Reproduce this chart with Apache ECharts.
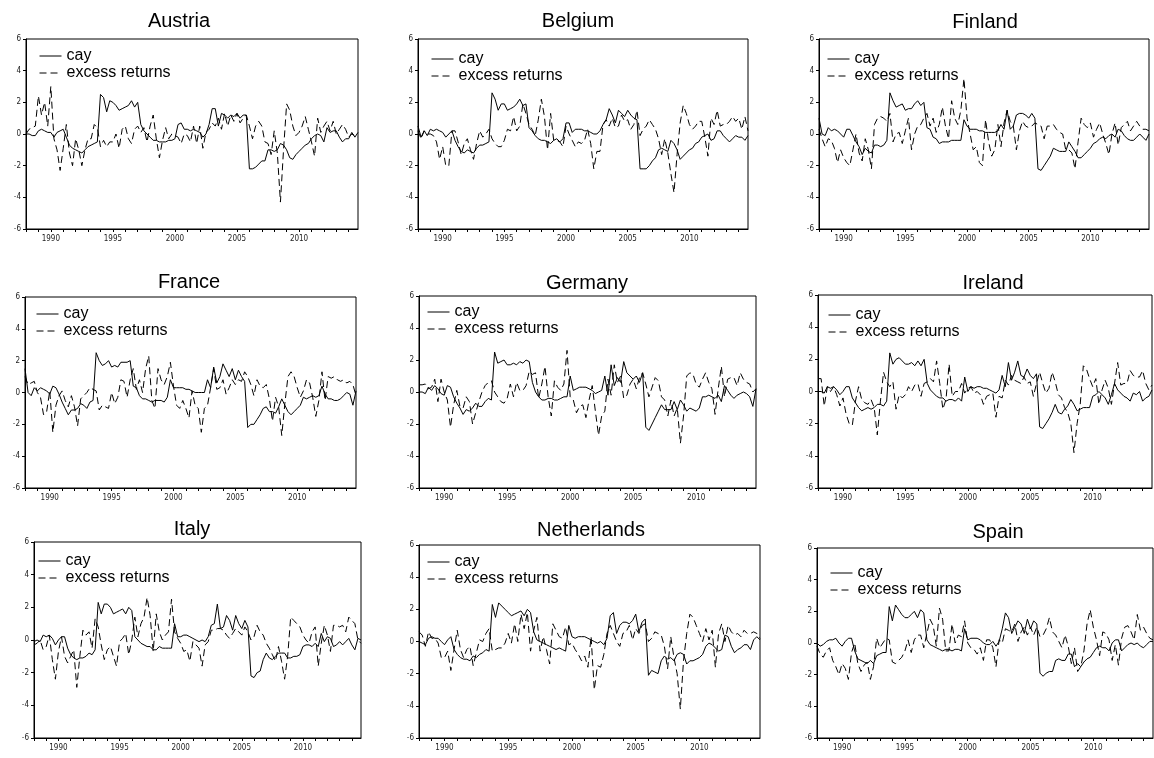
<!DOCTYPE html>
<html>
<head>
<meta charset="utf-8">
<title>cay and excess returns</title>
<script src="https://cdn.jsdelivr.net/npm/echarts@6/dist/echarts.min.js"></script>
<style>
  html, body { margin: 0; padding: 0; background: #fff; }
  #main { width: 1154px; height: 758px; }
</style>
</head>
<body>
<div id="main"></div>
<script>
// quarterly sample 1988Q1 - 2014Q4
var startYear = 1988;
var endYear = 2014;
var quarters = [];
for (var yr = startYear; yr <= endYear; yr++) {
  for (var q = 1; q <= 4; q++) quarters.push(yr + 'Q' + q);
}
var labelYears = ['1990', '1995', '2000', '2005', '2010'];
var seriesNames = ['cay', 'excess returns'];

var austriaCay = [
  0.0, 0.0, -0.1, -0.1, 0.2, 0.3, 0.2, 0.1, 0.1, -0.2, 0.1, 0.2,
  0.3, -0.2, -0.7, -0.9, -1.0, -1.1, -1.2, -1.0, -0.8, -0.7, -0.6, -0.5,
  2.5, 2.3, 1.4, 2.1, 2.0, 1.8, 1.5, 1.6, 1.7, 1.8, 2.1, 1.7,
  2.0, 0.6, 0.2, 0.0, -0.2, -0.4, -0.4, -0.5, -0.5, -0.5, -0.4, -0.4,
  -0.3, 0.6, 0.7, 0.3, 0.3, 0.2, 0.3, 0.2, 0.1, -0.2, 0.0, 0.6,
  1.6, 1.6, 0.5, 1.3, 1.2, 1.0, 1.2, 1.1, 1.3, 1.0, 1.2, 1.2,
  -2.2, -2.2, -2.1, -1.9, -1.7, -1.7, -1.0, -1.0, -1.1, -1.0, -0.6, -0.7,
  -1.0, -1.5, -1.6, -1.3, -1.1, -0.9, -0.7, -0.6, -0.3, -0.1, 0.0, -0.1,
  -0.5, 0.4, 0.1, 0.2, 0.2, -0.2, -0.5, -0.3, -0.3, 0.1, -0.2, 0.1
];
var austriaRet = [
  0.0, 0.3, 0.4, 0.5, 2.4, 1.2, 2.0, 0.5, 3.0, -0.3, -1.0, -2.3,
  -0.9, 0.6, -1.2, -2.0, -0.3, -1.0, -2.0, -1.0, -0.3, -0.3, 0.6, 0.4,
  -0.8, -0.4, -0.8, -0.5, -0.5, 0.0, -0.9, 0.3, 0.5, -0.3, -0.6, 0.3,
  0.5, 0.1, 0.4, -0.5, 0.5, 1.2, -0.3, -1.5, -0.4, 0.4, -0.3, 0.0,
  -0.1, -0.2, -0.6, 0.0, -0.1, -0.5, 0.5, -0.6, 0.5, -0.9, 0.1, 0.3,
  0.7, 0.5, 1.0, 0.3, 1.3, 0.5, 1.2, 0.8, 1.3, 0.7, 1.0, 1.2,
  0.5, -0.3, 0.5, 0.8, 0.5, -0.5, -0.6, -1.3, 0.2, -1.2, -4.3, -1.0,
  1.9, 1.5, 0.5, -0.1, 0.1, 0.5, 1.1, 0.3, -0.5, -1.4, 1.0, 0.1,
  0.5, 0.8, 0.2, 0.8, 0.0, 0.3, 0.6, 0.3, -0.2, 0.0, -0.1, -0.2
];

var belgiumCay = [
  0.5, -0.2, 0.2, -0.1, 0.3, 0.2, 0.3, 0.2, 0.1, -0.2, 0.0, 0.2,
  -0.4, -0.8, -1.1, -1.2, -1.0, -1.1, -1.2, -0.9, -0.7, -0.7, -0.6, -0.5,
  2.6, 2.2, 1.5, 1.9, 1.9, 1.5, 1.6, 1.7, 1.9, 2.2, 1.8, 1.9,
  0.4, 0.2, -0.1, -0.3, -0.4, -0.4, -0.5, -0.6, -0.4, -0.3, -0.5, -0.3,
  0.7, 0.7, 0.1, 0.3, 0.3, 0.3, 0.2, 0.2, 0.1, 0.0, 0.0, 0.2,
  0.6, 0.9, 1.6, 1.2, 0.7, 1.5, 1.3, 1.1, 1.5, 1.2, 1.0, 0.9,
  -2.2, -2.2, -2.2, -2.0, -1.7, -1.5, -1.0, -0.9, -1.0, -1.1, -0.4, -0.6,
  -1.0, -1.6, -1.4, -1.2, -1.0, -0.9, -0.6, -0.5, -0.2, -0.1, 0.0, -0.4,
  -0.3, 0.2, 0.2, -0.1, -0.3, -0.5, -0.3, -0.1, -0.2, -0.2, -0.4, -0.1
];
var belgiumRet = [
  0.2, -0.3, 0.2, 0.0, 0.0, -0.1, -0.5, -1.6, -0.8, -2.0, -2.0, 0.2,
  0.2, -0.5, -1.3, -0.6, -0.3, -1.0, -1.6, -0.6, 0.2, -0.2, 0.0, 0.3,
  -0.3, -0.6, -0.8, -0.8, -0.4, 0.3, 0.2, 1.1, 0.2, 0.5, 1.9, 1.3,
  0.6, 0.3, -0.1, 0.9, 2.2, 1.1, -1.0, 1.3, -0.4, -0.4, -0.5, -0.8,
  0.5, 0.0, -0.4, -0.8, -0.5, -0.6, -0.4, 0.3, -0.6, -2.2, -1.1, -1.1,
  0.6, 0.9, 0.5, 1.0, 0.4, 0.5, 1.2, 0.8, 0.9, 0.3, 0.6, 1.5,
  -0.1, 0.3, 0.5, 0.9, 0.6, 0.3, -0.3, -1.3, -0.3, -1.2, -2.5, -3.7,
  -1.3, 0.7, 1.8, 1.3, 0.6, 0.3, 0.5, 0.8, 0.8, -0.2, -1.4, 1.0,
  0.6, 1.5, 0.5, 0.6, 0.6, 0.8, 1.1, 0.8, 1.0, 0.3, 1.1, 0.2
];

var finlandCay = [
  1.0, 0.0, -0.1, 0.4, 0.2, 0.3, 0.2, 0.0, -0.2, 0.3, 0.3, -0.1,
  -0.5, -0.8, -1.3, -0.9, -1.1, -1.2, -0.7, -0.7, -0.8, -0.7, -0.4, 2.6,
  2.1, 1.7, 1.8, 1.9, 1.5, 1.6, 1.6, 1.9, 2.1, 1.8, 2.0, 0.4,
  0.3, -0.2, -0.3, -0.6, -0.5, -0.5, -0.5, -0.4, -0.4, -0.4, -0.4, 0.9,
  0.5, 0.3, 0.3, 0.3, 0.2, 0.2, 0.1, 0.1, 0.1, 0.1, 0.2, 0.6,
  0.3, 1.5, 0.3, 0.5, 1.2, 1.3, 1.3, 1.2, 1.0, 1.3, 1.0, -2.2,
  -2.3, -2.0, -1.7, -1.4, -0.9, -1.0, -1.1, -1.1, -1.1, -0.5, -0.8, -1.1,
  -1.5, -1.5, -1.3, -1.1, -0.9, -0.6, -0.5, -0.3, -0.2, -0.3, -0.1, 0.0,
  -0.2, 0.3, 0.2, -0.1, -0.3, -0.4, -0.4, -0.2, 0.0, -0.2, -0.4, 0.0
];
var finlandRet = [
  0.3, -0.3, -0.8, -0.3, -0.4, -0.9, -1.8, -1.0, -1.5, -1.8, -2.0, -1.0,
  0.0, -1.2, -1.7, -0.3, -1.0, -2.2, 0.6, 1.0, 1.1, 1.0, 0.8, 1.3,
  -0.5, 0.0, 0.1, -0.6, 0.2, 1.0, -1.0, 0.0, 0.5, 0.6, 1.0, 1.3,
  0.5, 1.0, 0.1, 0.6, 1.7, 0.5, -0.3, 2.1, 1.0, 0.6, 1.5, 3.5,
  1.0, 0.0, -1.0, -0.8, -1.8, -2.0, 0.9, -0.5, -1.4, -1.0, 0.6, -0.8,
  0.7, 1.5, 0.8, 0.5, -1.0, 0.2, 0.8, 0.5, 0.4, 0.5, 0.7, 0.6,
  0.5, -0.3, 0.5, 0.5, 0.6, 0.3, 0.1, 0.0, -1.0, -1.0, -1.2, -2.2,
  -0.5, 1.0, 0.6, 0.4, 0.7, -0.2, 0.3, 0.7, 0.0, -0.6, -1.3, 0.0,
  0.7, -0.7, 0.4, 0.6, 0.8, 0.2, 0.5, 0.8, 0.5, 0.3, 0.3, 0.2
];

var franceCay = [
  1.5, 0.0, -0.2, 0.3, 0.1, 0.3, 0.2, 0.1, -0.1, 0.4, 0.3, -0.1,
  -0.6, -1.0, -1.4, -1.1, -1.1, -1.0, -0.7, -0.8, -1.0, -0.6, -0.5, 2.5,
  2.0, 1.7, 1.8, 2.0, 1.6, 1.7, 1.6, 1.9, 1.9, 1.9, 2.0, 0.4,
  0.3, -0.2, -0.4, -0.4, -0.5, -0.6, -0.5, -0.5, -0.5, -0.6, -0.3, 0.8,
  0.3, 0.3, 0.3, 0.3, 0.2, 0.2, 0.1, 0.0, 0.0, 0.0, 0.0, 0.8,
  0.3, 1.6, 0.6, 1.0, 1.8, 1.4, 1.0, 1.5, 0.8, 1.4, 1.0, 0.7,
  -2.2, -2.0, -2.0, -1.7, -1.4, -1.0, -0.9, -1.2, -1.2, -1.3, -0.9, -0.4,
  -0.8, -1.2, -1.4, -1.2, -1.0, -0.8, -0.3, -0.4, -0.3, -0.2, -0.3, -0.2,
  0.4, -0.1, -0.4, -0.4, -0.5, -0.5, -0.4, -0.2, 0.0, -0.1, -0.8, 0.1
];
var franceRet = [
  1.0, 0.5, 0.6, 0.7, 0.0, -0.3, -1.4, -1.2, 0.1, -2.5, -0.8, -0.2,
  0.1, -0.5, -0.9, -0.2, -0.9, -2.1, -0.4, -0.2, 0.0, 0.3, 0.2, 0.1,
  -1.1, -0.8, -0.9, -1.0, 0.0, -0.7, -0.3, 0.8, 0.7, -0.3, 0.8, 1.5,
  0.2, 0.8, 0.0, 1.5, 2.3, -0.5, -1.0, 1.5, 0.8, 0.5, 1.0, 1.9,
  0.4, -0.8, -1.0, -0.5, -1.0, -1.6, 0.1, -0.8, -1.0, -2.5, -1.0, -0.8,
  0.3, 1.5, 0.2, 0.3, 0.8, -0.1, 0.3, 0.8, 0.5, 0.8, 0.7, 1.3,
  1.0, 0.5, -0.2, 0.8, 0.4, 0.3, 0.5, -0.4, -1.8, -0.3, -0.9, -2.7,
  -0.7, 1.0, 1.3, 1.0, 0.3, -0.3, 0.1, 0.8, 0.6, -0.3, -1.5, -0.5,
  1.3, -0.5, 1.0, 0.9, 1.0, 0.8, 0.7, 0.8, 0.6, 0.7, 0.5, -0.2
];

var germanyCay = [
  0.0, 0.0, -0.1, 0.3, 0.1, 0.4, 0.2, -0.1, -0.2, 0.4, 0.3, -0.3,
  -0.7, -1.0, -1.4, -1.1, -1.2, -1.0, -0.7, -0.9, -0.9, -0.6, -0.4, -0.5,
  2.5, 1.8, 1.9, 2.0, 1.7, 1.7, 1.8, 1.7, 1.9, 1.8, 2.0, 1.9,
  0.6, 0.0, -0.3, -0.5, -0.5, -0.4, -0.4, -0.5, -0.5, -0.4, -0.3, -0.3,
  1.0, 0.1, 0.2, 0.3, 0.3, 0.3, 0.2, 0.1, -0.1, 0.0, 0.1, 1.0,
  -0.2, 1.7, 0.4, 0.9, 0.6, 1.9, 1.2, 1.0, 0.8, 1.0, 0.6, 1.2,
  -2.2, -2.4, -2.0, -1.6, -1.2, -0.8, -1.1, -1.1, -1.1, -0.6, -1.1, -0.5,
  -0.8, -1.2, -1.0, -1.1, -1.2, -1.0, -0.3, -0.3, -0.2, -0.3, -0.4, -0.2,
  -0.6, 0.4, 0.1, -0.2, -0.4, -0.2, -0.1, 0.0, -0.1, -0.3, -0.9, 0.2
];
var germanyRet = [
  0.45, 0.45, 0.5, 0.2, 0.3, 0.8, -0.6, 0.8, 0.0, -0.5, -2.2, -0.8,
  0.1, -0.9, -1.0, -0.3, -0.6, -2.0, -1.3, -0.6, 0.0, 0.4, 0.6, 0.7,
  0.0, -0.3, -0.6, -0.7, -0.4, 0.5, -0.3, 0.6, 0.1, 0.1, 0.4, 1.3,
  1.1, 1.2, -0.4, 0.5, 1.6, -0.3, -1.5, 0.7, 0.3, 0.1, 0.5, 2.6,
  -0.3, -0.5, -1.3, -0.9, -0.8, -1.6, -0.5, 0.4, -1.2, -2.7, -1.5, -1.2,
  0.8, -0.2, 1.7, 0.6, 1.0, -0.4, -0.2, 0.5, 0.8, 0.2, 0.9, 1.2,
  0.5, -0.3, 0.3, 0.9, 0.7, -0.3, -0.5, -1.5, -0.5, -1.5, -1.0, -3.2,
  -1.5, 1.0, 1.2, 1.1, 0.5, 0.3, 0.8, 1.2, 0.6, 0.2, -1.4, 0.2,
  1.6, -0.3, 0.8, 0.9, 0.9, 0.4, 1.2, 0.8, 0.6, 0.5, 0.0, 0.2
];

var irelandCay = [
  0.0, 0.0, -0.1, 0.3, 0.2, 0.3, 0.1, -0.2, 0.0, 0.3, 0.3, -0.4,
  -0.7, -1.0, -1.2, -1.1, -1.0, -1.1, -1.0, -0.8, -0.8, -0.9, -0.6, 2.4,
  1.7, 2.0, 2.1, 1.9, 1.7, 1.7, 1.8, 1.6, 1.9, 1.6, 2.0, 0.5,
  0.1, -0.1, -0.3, -0.4, -0.4, -0.6, -0.5, -0.5, -0.6, -0.4, -0.6, 0.9,
  0.0, 0.3, 0.2, 0.3, 0.3, 0.2, 0.2, 0.1, 0.0, -0.1, 0.1, 1.0,
  0.3, 1.8, 0.7, 1.2, 1.9, 1.0, 0.9, 1.4, 1.0, 0.8, 1.1, -2.2,
  -2.3, -2.0, -1.7, -1.3, -0.8, -1.3, -1.4, -1.1, -0.9, -0.5, -0.8, -1.2,
  -1.1, -1.0, -1.0, -1.0, -0.3, -0.2, 0.0, -0.2, -0.4, -0.8, -0.2, 0.5,
  0.1, -0.1, -0.3, -0.4, -0.6, -0.1, -0.2, 0.0, -0.6, -0.4, -0.3, 0.1
];
var irelandRet = [
  0.8, 0.8, -0.9, 0.3, 0.0, 0.3, -0.2, -0.9, -0.4, -1.4, -2.0, -2.1,
  -0.6, 0.3, -0.5, -0.7, -0.8, -0.5, -1.0, -2.7, -0.6, 1.2, 0.6, 0.3,
  0.6, -1.1, -0.2, -0.4, -0.2, 0.3, 0.0, 0.4, 0.5, -0.3, 0.5, 0.6,
  0.8, 0.6, 1.9, 0.5, -1.1, -0.5, 1.7, -0.3, 0.0, 0.0, 0.5, -0.1,
  0.2, 0.3, -0.1, 0.0, -0.2, -0.8, -0.3, -0.2, -0.1, -1.6, -0.3, -0.4,
  0.7, 0.4, 1.0, 0.7, 0.6, 0.5, 0.9, 0.5, 0.6, -0.3, 0.5, 1.2,
  0.5, -0.1, 0.2, 1.2, 0.6, -0.2, -0.4, -1.0, -1.3, -2.0, -3.8, -2.0,
  -0.8, 1.6, 1.4, 0.8, 0.3, 0.8, -0.8, 0.1, 0.7, 0.2, -0.8, 0.5,
  1.8, 0.4, 0.5, 0.5, 1.3, 1.0, 0.9, 0.9, 1.3, 0.5, 0.1, 0.4
];

var italyCay = [
  -0.1, 0.0, -0.1, 0.3, 0.2, 0.3, 0.1, -0.3, 0.0, 0.2, 0.2, -0.5,
  -0.9, -1.1, -1.2, -1.1, -1.1, -1.0, -0.8, -0.9, -0.6, 2.3, 1.6, 2.2,
  2.2, 2.0, 1.6, 1.7, 1.8, 1.9, 1.6, 2.0, 1.8, 0.2, 0.0, -0.2,
  -0.3, -0.4, -0.4, -0.6, -0.6, -0.4, -0.5, -0.5, -0.5, -0.5, 1.0, 0.2,
  0.2, 0.3, 0.3, 0.2, 0.1, 0.0, -0.1, 0.0, -0.1, 0.2, 0.9, 1.0,
  2.2, 0.7, 0.8, 1.5, 1.2, 0.6, 1.5, 1.0, 0.7, 1.2, 0.8, -2.2,
  -2.3, -2.0, -1.9, -1.2, -0.8, -1.1, -1.2, -1.0, -0.8, -0.8, -0.8, -1.1,
  -1.1, -1.0, -1.0, -0.9, -0.4, -0.3, -0.3, -0.4, -0.2, -0.4, 0.4, -0.1,
  0.2, 0.1, -0.4, -0.3, -0.1, -0.3, -0.1, 0.1, -0.3, -0.6, 0.1, 0.0
];
var italyRet = [
  -0.3, -0.2, 0.0, -0.6, -0.4, 0.3, -1.2, -2.4, -0.7, 0.2, -1.0, -1.4,
  -1.0, -0.6, -2.9, -1.0, 0.6, 0.3, 0.5, -0.5, 1.3, 0.8, -0.3, -1.2,
  -0.6, -0.4, -1.0, -1.6, -0.1, 0.1, 0.4, -0.9, 0.0, 1.4, 0.2, 1.0,
  1.4, 2.6, 1.5, -0.7, 1.6, 0.5, 0.0, 0.3, 0.5, 2.5, 0.5, 0.1,
  -0.2, -0.7, -0.6, -1.3, -0.1, -0.3, -0.5, -1.6, -0.3, -0.1, 0.6, 0.6,
  0.7, 0.7, 0.6, 0.3, 0.1, 0.4, 0.7, 0.5, 0.3, 0.8, 0.5, 0.0,
  0.2, 0.9, 0.5, 0.3, -0.2, -0.5, -0.9, -1.3, -0.4, -1.3, -2.4, -1.0,
  1.4, 1.2, 1.0, 0.8, 0.3, 0.0, -0.2, 0.5, 0.8, -1.6, -0.2, 0.9,
  0.3, -0.7, 0.9, 0.9, 0.8, 0.9, 0.5, 1.4, 1.2, 1.0, 0.0, -0.2
];

var netherlandsCay = [
  0.0, -0.1, -0.2, 0.2, 0.3, 0.2, 0.2, 0.0, -0.2, 0.1, 0.3, -0.5,
  -0.8, -1.0, -1.1, -1.1, -1.2, -0.9, -1.0, -0.8, -0.7, -0.5, -0.6, 2.3,
  1.5, 2.4, 2.2, 2.0, 1.8, 1.6, 1.7, 1.8, 1.9, 1.6, 2.0, 1.8,
  0.6, 0.1, 0.0, -0.1, -0.2, -0.3, -0.4, -0.5, -0.4, -0.5, -0.6, 1.0,
  0.3, 0.2, 0.3, 0.3, 0.3, 0.2, 0.1, 0.0, -0.1, 0.0, -0.2, 0.2,
  1.6, 1.8, 0.5, 1.0, 1.2, 1.2, 1.1, 1.3, 1.7, 0.6, 1.2, 1.4,
  -2.1, -1.8, -1.9, -2.0, -1.2, -0.9, -1.1, -1.0, -1.2, -0.8, -0.7, -0.8,
  -1.4, -1.2, -1.2, -1.1, -1.0, -0.8, -0.3, -0.1, -0.2, -0.4, -0.6, -0.5,
  0.4, 0.3, -0.3, -0.7, -0.5, -0.4, -0.2, -0.2, -0.5, 0.1, 0.3, 0.1
];
var netherlandsRet = [
  0.6, 0.4, -0.3, 0.6, 0.2, 0.2, -0.1, -1.0, -1.0, -0.6, -1.8, -0.5,
  0.7, -0.5, -1.0, -0.5, -0.3, -1.5, -0.7, 0.1, 0.0, 0.5, 0.8, -0.6,
  -0.5, -0.4, -0.4, -0.1, 0.5, -0.1, 1.1, 0.0, 1.7, 0.8, 1.8, -0.6,
  0.7, 1.5, -0.6, 0.3, -0.5, -1.4, 1.1, 0.7, 0.3, 0.2, 0.9, -0.2,
  -0.1, -0.5, -0.8, -1.2, -0.9, -1.6, 0.3, -3.0, -1.5, -1.6, -0.8, 0.5,
  1.0, 0.5, 0.0, -0.3, 0.5, 0.6, 1.0, 0.1, 0.8, 0.5, 1.0, 1.1,
  0.0, 0.2, 0.6, 0.5, 0.4, -0.3, -1.7, 0.3, -1.0, -2.0, -4.2, -1.2,
  0.5, 1.7, 1.5, 1.0, 0.5, 0.0, 0.8, 0.1, 0.7, -1.6, 0.5, 1.1,
  0.0, 1.0, 0.6, 0.4, 0.5, 0.3, 0.7, 0.5, 0.5, 0.6, 0.5, 0.2
];

var spainCay = [
  0.0, -0.2, -0.1, 0.1, 0.2, 0.2, 0.3, 0.0, -0.2, 0.1, 0.3, 0.3,
  -0.5, -1.0, -1.1, -1.2, -1.3, -1.1, -1.3, -0.8, -0.7, -0.6, -0.6, 2.3,
  1.4, 2.4, 2.1, 1.8, 1.6, 1.6, 1.8, 2.0, 1.6, 2.1, 1.9, 0.2,
  -0.1, -0.2, -0.3, -0.4, -0.5, -0.4, -0.4, -0.5, -0.4, -0.4, -0.5, 0.9,
  0.2, 0.3, 0.3, 0.3, 0.2, 0.0, -0.1, -0.1, 0.1, -0.2, 0.1, 0.9,
  1.9, 1.6, 0.6, 1.0, 1.4, 1.2, 0.6, 1.5, 0.9, 1.4, 1.2, -1.9,
  -2.1, -1.9, -1.8, -1.8, -1.1, -1.0, -1.1, -1.1, -0.7, -0.7, -1.5, -1.3,
  -1.5, -1.2, -1.0, -0.9, -0.6, -0.3, -0.2, -0.3, -0.3, -0.5, 0.0, 0.2,
  0.2, -0.5, -0.3, -0.1, 0.0, -0.1, 0.0, -0.2, -0.3, -0.1, 0.1, 0.1
];
var spainRet = [
  -0.2, -0.7, -0.9, -0.5, -0.3, -1.1, -1.5, -2.0, -1.3, -1.6, -2.3, -0.6,
  0.0, -1.3, -1.8, -1.4, -1.2, -2.3, -1.5, 0.3, -0.3, 0.0, 0.3, 0.2,
  -1.2, -1.3, -1.1, -0.9, -0.5, 0.2, -0.6, 0.2, 0.5, 0.5, -0.3, 0.6,
  1.5, 1.1, -0.2, 2.2, 1.5, -0.5, -0.5, 1.2, 0.0, 0.5, 0.4, 1.4,
  0.0, -0.3, -0.4, -0.7, -0.3, -1.1, 0.2, 0.2, -0.3, -1.5, 0.2, 0.0,
  0.9, 0.8, 0.7, 1.2, 0.1, 0.7, 1.0, 0.5, 1.0, 0.5, 1.0, 0.4,
  0.5, 0.9, 1.6, 0.7, 0.5, 0.1, -0.3, 0.5, -0.2, -1.3, -0.3, -1.8,
  -1.5, -0.5, 1.2, 2.1, 1.0, 0.2, -0.8, 0.7, 0.6, 0.2, -1.1, -0.1,
  -1.4, 0.3, 1.0, 1.1, 0.7, 0.2, 1.8, 0.8, 1.0, 0.6, 0.3, 0.2
];

// panel layout: plot box [left, top, width, height], title centre, legend corner
var panels = [
  { name: 'Austria', cay: austriaCay, ret: austriaRet, box: [26, 39, 332, 190], title: [179, 21], legend: [39, 48] },
  { name: 'Belgium', cay: belgiumCay, ret: belgiumRet, box: [418, 39, 330, 190], title: [578, 21], legend: [431, 51] },
  { name: 'Finland', cay: finlandCay, ret: finlandRet, box: [819, 39, 330, 190], title: [985, 22], legend: [827, 51] },
  { name: 'France', cay: franceCay, ret: franceRet, box: [25, 297, 331, 191], title: [189, 282], legend: [36, 306] },
  { name: 'Germany', cay: germanyCay, ret: germanyRet, box: [419, 296, 337, 192], title: [587, 283], legend: [427, 304] },
  { name: 'Ireland', cay: irelandCay, ret: irelandRet, box: [818, 295, 334, 193], title: [993, 283], legend: [828, 307] },
  { name: 'Italy', cay: italyCay, ret: italyRet, box: [34, 542, 327, 196], title: [192, 529], legend: [38, 553] },
  { name: 'Netherlands', cay: netherlandsCay, ret: netherlandsRet, box: [419, 545, 341, 193], title: [591, 530], legend: [427, 554] },
  { name: 'Spain', cay: spainCay, ret: spainRet, box: [817, 548, 336, 190], title: [998, 532], legend: [830, 565] }
];

var font = 'Arial, "Liberation Sans", sans-serif';
var smallFont = '"Liberation Sans Narrow", "DejaVu Sans Condensed", Arial, sans-serif';

var chart = echarts.init(document.getElementById('main'));

var option = {
  backgroundColor: '#ffffff',
  animation: false,
  title: [],
  legend: [],
  grid: [],
  xAxis: [],
  yAxis: [],
  series: []
};

panels.forEach(function (p, k) {
  option.title.push({
    text: p.name,
    left: p.title[0],
    top: p.title[1],
    textAlign: 'center',
    textVerticalAlign: 'middle',
    padding: 0,
    textStyle: { fontSize: 20, fontWeight: 'normal', color: '#000', fontFamily: font }
  });
  option.legend.push({
    data: seriesNames,
    orient: 'vertical',
    left: p.legend[0],
    top: p.legend[1],
    padding: 0,
    itemWidth: 22,
    itemHeight: 14,
    itemGap: 1,
    selectedMode: false,
    // hide the marker the line legend icon adds, keep only the (dashed) line
    itemStyle: { opacity: 0, color: 'transparent', borderWidth: 0 },
    lineStyle: { width: 1 },
    textStyle: { fontSize: 16, color: '#000', fontFamily: font }
  });
  option.grid.push({
    left: p.box[0],
    top: p.box[1],
    width: p.box[2],
    height: p.box[3],
    show: true,
    borderColor: '#000',
    borderWidth: 1,
    outerBoundsMode: 'none'
  });
  option.xAxis.push({
    type: 'category',
    gridIndex: k,
    data: quarters,
    boundaryGap: false,
    axisLine: { onZero: false, lineStyle: { color: '#000', width: 1 } },
    axisTick: {
      length: 3,
      lineStyle: { color: '#000' },
      interval: function (i, v) { return v.slice(4) === 'Q1'; }
    },
    axisLabel: {
      fontSize: 8,
      color: '#222',
      fontFamily: smallFont,
      margin: 6,
      interval: function (i, v) { return v.slice(4) === 'Q1' && labelYears.indexOf(v.slice(0, 4)) >= 0; },
      formatter: function (v) { return v.slice(0, 4); }
    },
    splitLine: { show: false }
  });
  option.yAxis.push({
    type: 'value',
    gridIndex: k,
    min: -6,
    max: 6,
    interval: 2,
    axisLine: { show: true, onZero: false, lineStyle: { color: '#000', width: 1 } },
    axisTick: { show: true, length: 3, lineStyle: { color: '#000' } },
    axisLabel: { fontSize: 8, color: '#222', fontFamily: smallFont, margin: 5 },
    splitLine: { show: false }
  });
  option.series.push({
    name: 'cay',
    type: 'line',
    xAxisIndex: k,
    yAxisIndex: k,
    data: p.cay,
    symbol: 'none',
    itemStyle: { color: '#000' },
    lineStyle: { color: '#000', width: 1 }
  });
  option.series.push({
    name: 'excess returns',
    type: 'line',
    xAxisIndex: k,
    yAxisIndex: k,
    data: p.ret,
    symbol: 'none',
    itemStyle: { color: '#000' },
    lineStyle: { color: '#000', width: 1, type: [7, 4] }
  });
});

chart.setOption(option);
</script>
</body>
</html>
